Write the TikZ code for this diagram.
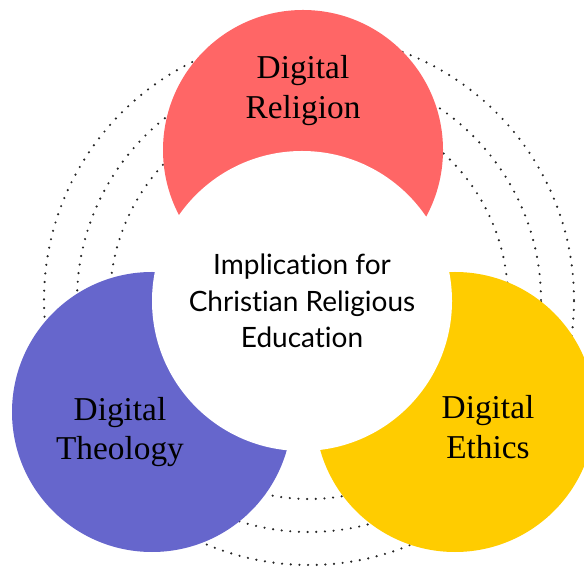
\documentclass[tikz,border=0pt]{standalone}
\usepackage{fontspec}
\setmainfont{Liberation Serif}
\newfontfamily\hubfont[Ligatures=NoCommon]{Lato}
\usetikzlibrary{positioning}
\definecolor{relred}{HTML}{FF6666}
\definecolor{theoblue}{HTML}{6666CC}
\definecolor{ethyellow}{HTML}{FFCC00}
\tikzset{
  petal/.style={circle, minimum size=210pt, inner sep=0pt},
  hub/.style={circle, fill=white, minimum size=225pt, inner sep=0pt},
  orbit/.style={draw=black!85, line width=1.8pt, dash pattern=on 0pt off 6.5pt, line cap=round},
  petaltext/.style={align=center, font=\fontsize{25}{29.5}\selectfont},
  hubtext/.style={align=center, font=\hubfont\fontsize{21}{27.4}\selectfont},
}

\begin{document}
\begin{tikzpicture}
  \useasboundingbox (0,0) rectangle (438pt,427.5pt);
  \coordinate (Mid) at (226.5pt,201.75pt);
  \coordinate[on grid, above right=0.75pt and 5.25pt of Mid] (Orbit);
  \foreach \r in {149.25,174,198.75}
    \draw[orbit] (Orbit) circle (\r pt);
  \node[petal, fill=relred, on grid, above right=113.25pt and 0.75pt of Mid, anchor=center] (Rel) {};
  \node[petal, fill=theoblue, on grid, below left=83.25pt and 112.5pt of Mid, anchor=center] (Theo) {};
  \node[petal, fill=ethyellow, on grid, below right=83.25pt and 114.75pt of Mid, anchor=center] (Eth) {};
  \node[hub] (Hub) at (Mid) {};
  \node[petaltext, on grid, above=44.6pt of Rel] (RelText) {Digital\\Religion};
  \node[petaltext, on grid, below left=15pt and 24pt of Theo] (TheoText) {Digital\\Theology};
  \node[petaltext, on grid, below right=11.25pt and 24.75pt of Eth] (EthText) {Digital\\Ethics};
  \node[hubtext] (HubText) at (Hub) {Implication for\\Christian Religious\\Education};
\end{tikzpicture}
\end{document}
